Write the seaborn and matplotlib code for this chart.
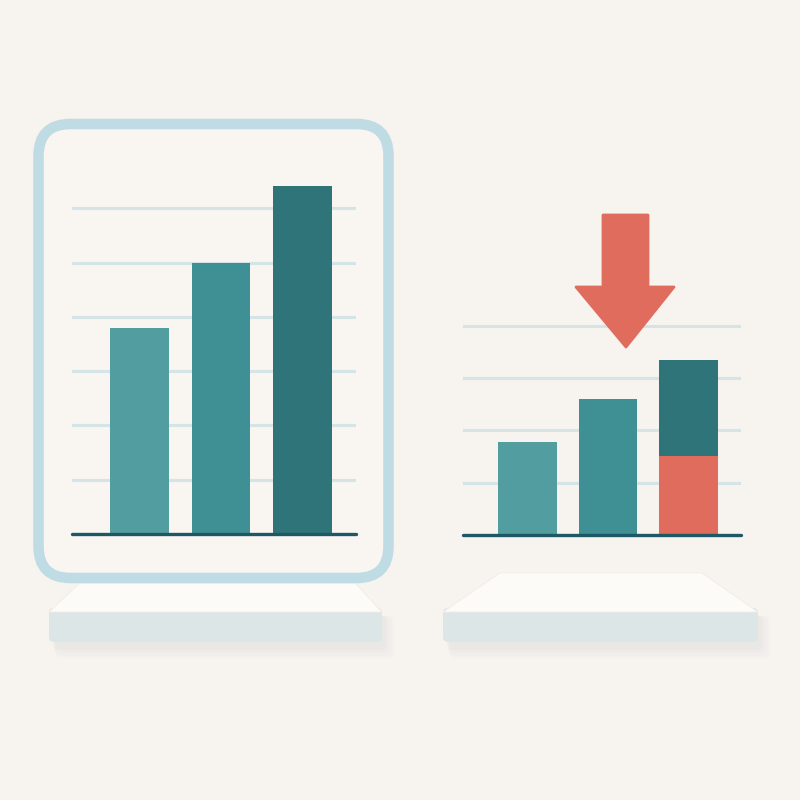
import matplotlib
matplotlib.use("Agg")
import matplotlib.pyplot as plt
import seaborn as sns
import pandas as pd
from matplotlib.patches import FancyBboxPatch, Polygon

# ---- data ----
left_categories = ["A", "B", "C"]
left_values = [3.8, 5.0, 6.4]
left_gridlines = [1, 2, 3, 4, 5, 6]

right_categories = ["A", "B", "C"]
right_totals = [1.78, 2.6, 3.35]
right_red_part = [0.0, 0.0, 1.51]
right_gridlines = [1, 2, 3, 4]

# ---- style ----
BG = "#f7f3ef"
GRID = "#d4e4e7"
BASE = "#1e5865"
FRAME = "#bfdce4"
RED = "#e06c5e"
left_palette = ["#519d9f", "#3e9094", "#2f7479"]
right_palette = ["#519d9f", "#3e9094", "#2f7479"]

sns.set_theme(style="white")
fig = plt.figure(figsize=(8, 8), dpi=100)
fig.patch.set_facecolor(BG)

# background drawing layer in pixel coordinates
bg = fig.add_axes([0, 0, 1, 1], zorder=0)
bg.set_xlim(0, 800)
bg.set_ylim(800, 0)
bg.axis("off")
bg.set_facecolor(BG)


def platform(ax, top_l, top_r, bot_l, bot_r, y_top, y_mid, y_bot):
    # soft shadow
    for i, a in enumerate([0.05, 0.04, 0.03, 0.02]):
        ax.add_patch(FancyBboxPatch((bot_l + 4 + i, y_mid + 4), bot_r - bot_l + 2 * i, y_bot - y_mid + 4 + 3 * i,
                                    boxstyle="round,pad=0,rounding_size=6",
                                    fc="#9fb0b3", ec="none", alpha=a, zorder=1))
    ax.add_patch(FancyBboxPatch((bot_l, y_mid - 4), bot_r - bot_l, y_bot - y_mid + 4,
                                boxstyle="round,pad=0,rounding_size=5",
                                fc="#dce6e7", ec="none", zorder=2))
    ax.add_patch(Polygon([(top_l, y_top), (top_r, y_top), (bot_r, y_mid), (bot_l, y_mid)],
                         closed=True, fc="#fdfbf8", ec="#f0ece8", lw=0.6, joinstyle="round", zorder=3))


platform(bg, 80, 355, 49, 382, 583, 612, 642)
platform(bg, 500, 702, 443, 758, 573, 612, 642)

# left frame
bg.add_patch(FancyBboxPatch((38.5, 124), 350, 454, boxstyle="round,pad=0,rounding_size=32",
                            fc="#f9f5f1", ec=FRAME, lw=7.6, zorder=4))


def style_axes(ax, ticks, ymax):
    ax.set_ylim(0, ymax)
    ax.set_yticks(ticks)
    ax.yaxis.grid(True, color=GRID, lw=2.2)
    ax.xaxis.grid(False)
    ax.set_axisbelow(True)
    ax.set_facecolor("none")
    for s in ax.spines.values():
        s.set_visible(False)
    ax.tick_params(length=0, labelleft=False, labelbottom=False)
    ax.set_xlabel("")
    ax.set_ylabel("")
    ax.axhline(0, color=BASE, lw=2.4, solid_capstyle="round", clip_on=False, zorder=5)


# left chart
axL = fig.add_axes([72 / 800, (800 - 534) / 800, 284 / 800, 6.6 * 54.3 / 800], zorder=6)
dfL = pd.DataFrame({"cat": left_categories, "val": left_values})
sns.barplot(data=dfL, x="cat", y="val", hue="cat", palette=left_palette, legend=False,
            width=0.72, saturation=1, linewidth=0, ax=axL)
axL.set_xlim(-0.83, 2.655)
style_axes(axL, left_gridlines, 6.6)

# right chart
axR = fig.add_axes([463 / 800, (800 - 535) / 800, 278 / 800, 4.3 * 52.3 / 800], zorder=6)
dfR = pd.DataFrame({"cat": right_categories, "total": right_totals, "red": right_red_part})
sns.barplot(data=dfR, x="cat", y="total", hue="cat", palette=right_palette, legend=False,
            width=0.73, saturation=1, linewidth=0, ax=axR)
sns.barplot(data=dfR, x="cat", y="red", color=RED, width=0.73, saturation=1, linewidth=0, ax=axR)
axR.set_xlim(-0.80, 2.65)
style_axes(axR, right_gridlines, 4.3)

# overlay layer for the arrow (above the grid lines)
top = fig.add_axes([0, 0, 1, 1], zorder=10)
top.set_xlim(0, 800)
top.set_ylim(800, 0)
top.axis("off")
top.patch.set_alpha(0)
arrow = Polygon([(603, 215), (648, 215), (648, 287), (674, 287), (626, 347),
                 (576, 287), (603, 287)], closed=True, fc=RED, ec=RED, lw=2,
                joinstyle="round")
top.add_patch(arrow)

fig.savefig("out.png", dpi=100, facecolor=BG)
